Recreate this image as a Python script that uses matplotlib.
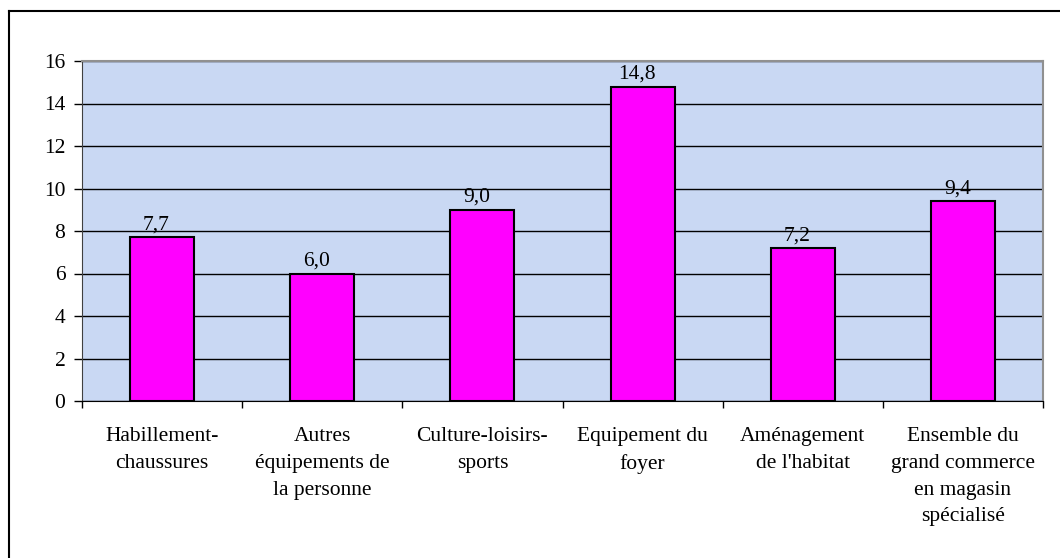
import matplotlib.pyplot as plt
from matplotlib.lines import Line2D
import numpy as np

categories = ["Habillement-\nchaussures", "Autres\néquipements de\nla personne",
              "Culture-loisirs-\nsports", "Equipement du\nfoyer",
              "Aménagement\nde l'habitat",
              "Ensemble du\ngrand commerce\nen magasin\nspécialisé"]
values = [7.7, 6.0, 9.0, 14.8, 7.2, 9.4]
value_labels = ["7,7", "6,0", "9,0", "14,8", "7,2", "9,4"]

plt.rcParams['font.family'] = ['Liberation Serif', 'DejaVu Serif']

fig = plt.figure(figsize=(10.6, 5.58), dpi=100)
ax = fig.add_axes([82/1060, 1 - 401/558, 961/1060, 340/558])

# cadre extérieur (seulement gauche et haut visibles)
fig.add_artist(Line2D([9/1060, 9/1060], [0, 1 - 11/558], color='black', lw=1.5, transform=fig.transFigure))
fig.add_artist(Line2D([9/1060, 1], [1 - 11/558, 1 - 11/558], color='black', lw=1.5, transform=fig.transFigure))

ax.set_facecolor('#c9d8f3')
x = np.arange(len(values))
ax.bar(x, values, width=0.4, color='#ff00ff', edgecolor='black', linewidth=1.5, zorder=3)

for xi, v, lab in zip(x, values, value_labels):
    ax.annotate(lab, (xi, v), xytext=(-4, 2), textcoords='offset points',
                ha='center', va='bottom', fontsize=15.5, zorder=4)

ax.set_xlim(-0.5, len(values) - 0.5)
ax.set_ylim(0, 16)
ax.set_yticks(range(0, 17, 2))
ax.yaxis.grid(True, color='black', linewidth=1)
ax.set_axisbelow(True)

ax.set_xticks(x)
ax.set_xticklabels(categories, fontsize=15.5, linespacing=1.55)
ax.set_xticks(np.arange(-0.5, len(values), 1), minor=True)
ax.tick_params(axis='x', which='major', length=0, pad=19)
ax.tick_params(axis='x', which='minor', length=5, width=1, color='black')
ax.tick_params(axis='y', labelsize=15.5, length=6, width=1, pad=6)

for s in ['top', 'right']:
    ax.spines[s].set_color('#909090')
    ax.spines[s].set_linewidth(1.5)
ax.spines['left'].set_color('#404040')
ax.spines['bottom'].set_color('black')

fig.savefig("out.png", dpi=100)
